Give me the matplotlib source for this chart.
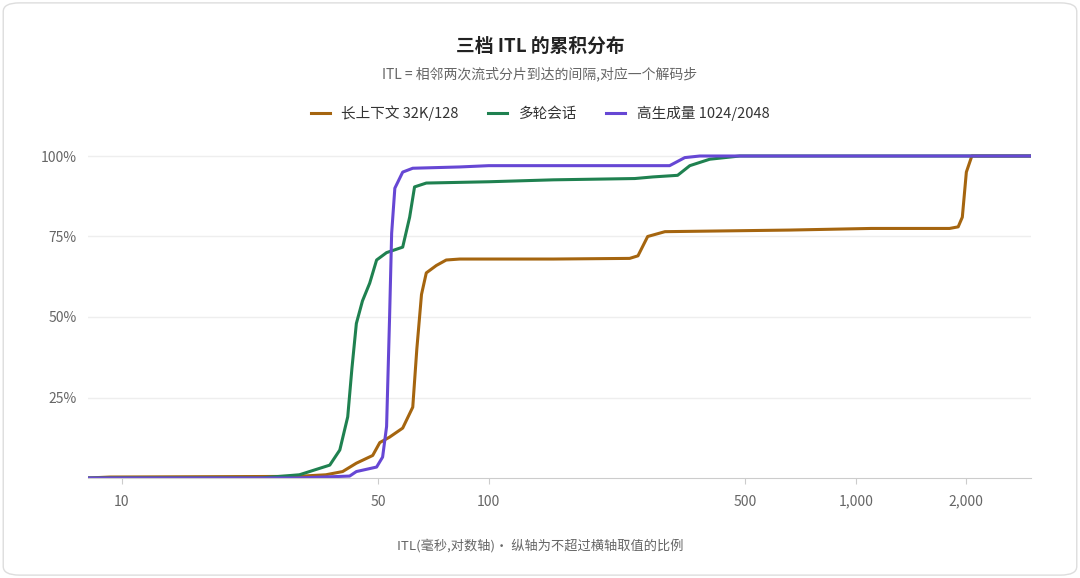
import matplotlib
matplotlib.use("Agg")
import matplotlib.pyplot as plt
from matplotlib.patches import FancyBboxPatch
from matplotlib.ticker import FixedLocator, NullLocator

plt.rcParams['font.family'] = ['Noto Sans CJK SC', 'DejaVu Sans']

series_names = ["长上下文 32K/128", "多轮会话", "高生成量 1024/2048"]
colors = ["#a5650f", "#1f8150", "#6647d4"]

long_x = [8.1, 9.3, 30, 36, 40.0, 43.6, 48.3, 50.5, 53.7, 58.3, 62.1, 63.7, 65.6, 67.6, 72.0, 76.6, 83.4,
          150, 242, 255, 271, 302, 661, 1100, 1800, 1900, 1950, 2000, 2070, 3000]
long_y = [0, 0.3, 0.5, 1, 2, 4.6, 7, 11, 12.7, 15.5, 22, 40, 57, 63.7, 66, 67.7, 68,
          68, 68.2, 69, 75, 76.5, 77, 77.5, 77.5, 78, 81, 95, 100, 100]

multi_x = [8.1, 23.8, 30.5, 36.9, 39.3, 41.3, 42.4, 43.6, 45.3, 47.4, 49.5, 52.7, 58.3, 60.9, 62.8, 67.6,
           100, 150, 250, 280, 327, 353, 400, 483, 3000]
multi_y = [0, 0, 1, 4, 8.7, 19, 34, 48, 55, 60.5, 67.7, 70, 71.7, 81, 90.4, 91.6,
           92, 92.6, 93, 93.5, 94, 97, 99, 100, 100]

gen_x = [8.1, 30, 41.8, 43.6, 49.5, 51.4, 52.7, 53.7, 54.4, 55.5, 58.3, 62.1, 83.4, 100,
         311, 342, 376, 3000]
gen_y = [0, 0, 0.6, 2, 3.4, 6.5, 16, 50, 76, 90, 95, 96.2, 96.6, 97,
         97, 99.5, 100, 100]

xticks = [10, 50, 100, 500, 1000, 2000]
xticklabels = ["10", "50", "100", "500", "1,000", "2,000"]
yticks = [25, 50, 75, 100]
yticklabels = ["25%", "50%", "75%", "100%"]

fig = plt.figure(figsize=(10.8, 5.78), dpi=100)
bg = FancyBboxPatch((0.003, 0.005), 0.994, 0.99, boxstyle="round,pad=0,rounding_size=0.015",
                    transform=fig.transFigure, facecolor="white", edgecolor="#dddddd", lw=1, zorder=-10)
fig.patches.append(bg)
ax = fig.add_axes([88/1080, 1-478/578, (1031-88)/1080, (478-140)/578])
ax.set_zorder(5)
ax.set_facecolor("none")
for xs, ys, c, n in zip([long_x, multi_x, gen_x], [long_y, multi_y, gen_y], colors, series_names):
    ax.plot(xs, ys, color=c, lw=2.2, label=n)
ax.set_xscale("log")
ax.set_xlim(8.1, 3000)
ax.set_ylim(0, 100 * (478-140) / 322)
ax.xaxis.set_major_locator(FixedLocator(xticks))
ax.xaxis.set_minor_locator(NullLocator())
ax.set_xticklabels(xticklabels)
ax.set_yticks(yticks)
ax.set_yticklabels(yticklabels)
ax.grid(axis="y", color="#eeeeee", lw=1)
ax.set_axisbelow(True)
for s in ["top", "right", "left"]:
    ax.spines[s].set_visible(False)
ax.spines["bottom"].set_color("#cccccc")
ax.tick_params(axis="both", colors="#666666", labelsize=10, length=0, pad=8)
ax.tick_params(axis="x", length=4, color="#cccccc")

fig.text(0.5, 1-46/578, "三档 ITL 的累积分布", ha="center", va="center", fontsize=13.5, fontweight="bold", color="#222222")
fig.text(0.5, 1-74/578, "ITL = 相邻两次流式分片到达的间隔,对应一个解码步", ha="center", va="center", fontsize=10, color="#666666")
fig.legend(loc="center", bbox_to_anchor=(0.5, 1-113/578), ncol=3, frameon=False, fontsize=10.5,
           handlelength=1.3, columnspacing=2, labelcolor="#333333")
fig.text(0.5, 1-546/578, "ITL(毫秒,对数轴)· 纵轴为不超过横轴取值的比例", ha="center", va="center", fontsize=9.5, color="#666666")
fig.savefig("out.png", dpi=100)
